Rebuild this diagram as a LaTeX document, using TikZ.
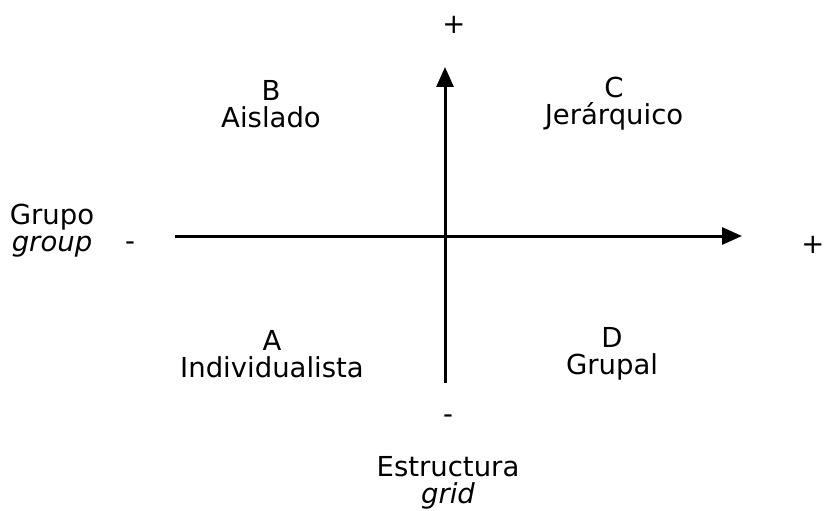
\documentclass[tikz,border=0pt]{standalone}
\usepackage{fontspec}
\setmainfont{DejaVu Sans}
\usetikzlibrary{arrows.meta}
\begin{document}
\begin{tikzpicture}[x=1pt,y=-1pt,
  lbl/.style={font=\fontsize{27.5}{27}\selectfont, align=center, inner sep=0pt},
  axis/.style={line width=3pt, -{Triangle[length=20pt,width=17pt]}}]
\useasboundingbox (0,0) rectangle (825,511);
\clip (0,0) rectangle (825,511);
\coordinate (vb) at (445,383);
\coordinate (vt) at (445,67);
\coordinate (hl) at (175,236);
\coordinate (hr) at (742,236);
\draw[axis] (vb) -- (vt);
\draw[axis] (hl) -- (hr);
\node[lbl] (ptop) at (454,25) {+};
\node[lbl] (pright) at (813,245) {+};
\node[lbl] (mleft) at (130,246) {-};
\node[lbl] (mbot) at (448,419) {-};
\node[lbl] (grupo) at (52,231) {Grupo\\\itshape group};
\node[lbl] (B) at (271,104) {B\\Aislado};
\node[lbl] (C) at (614,104) {C\\Jerárquico};
\node[lbl] (A) at (272,354) {A\\Individualista};
\node[lbl] (D) at (612,354) {D\\Grupal};
\node[lbl] (estr) at (448,483) {Estructura\\\itshape grid};
\end{tikzpicture}
\end{document}
